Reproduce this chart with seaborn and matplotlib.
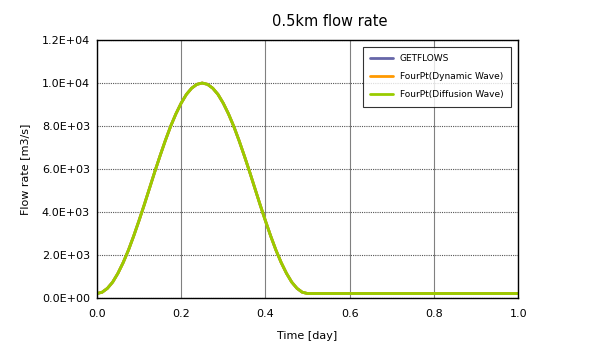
import matplotlib
matplotlib.use("Agg")
import matplotlib.pyplot as plt
import seaborn as sns
import pandas as pd

# values (rising limb, peak, falling limb, base flow)
time_day = [0.0, 0.0125, 0.025, 0.0375, 0.05, 0.0625, 0.075, 0.0875, 0.1, 0.1125,
            0.125, 0.1375, 0.15, 0.1625, 0.175, 0.1875, 0.2, 0.2125, 0.225, 0.2375,
            0.25, 0.2625, 0.275, 0.2875, 0.3, 0.3125, 0.325, 0.3375, 0.35, 0.3625,
            0.375, 0.3875, 0.4, 0.4125, 0.425, 0.4375, 0.45, 0.4625, 0.475, 0.4875,
            0.5, 0.6, 0.7, 0.8, 0.9, 1.0]
getflows = [200, 260, 440, 730, 1140, 1640, 2220, 2880, 3590, 4330,
            5100, 5870, 6610, 7320, 7980, 8560, 9060, 9470, 9760, 9940,
            10000, 9940, 9760, 9470, 9060, 8560, 7980, 7320, 6610, 5870,
            5100, 4330, 3590, 2880, 2220, 1640, 1140, 730, 440, 260,
            200, 200, 200, 200, 200, 200]
dynamic = [200, 260, 440, 730, 1140, 1640, 2220, 2880, 3590, 4330,
           5100, 5870, 6610, 7320, 7980, 8560, 9060, 9470, 9760, 9940,
           10000, 9940, 9760, 9470, 9060, 8560, 7980, 7320, 6610, 5870,
           5100, 4330, 3590, 2880, 2220, 1640, 1140, 730, 440, 260,
           200, 200, 200, 200, 200, 200]
diffusion = [200, 260, 440, 730, 1140, 1640, 2220, 2880, 3590, 4330,
             5100, 5870, 6610, 7320, 7980, 8560, 9060, 9470, 9760, 9940,
             10000, 9940, 9760, 9470, 9060, 8560, 7980, 7320, 6610, 5870,
             5100, 4330, 3590, 2880, 2220, 1640, 1140, 730, 440, 260,
             200, 200, 200, 200, 200, 200]
series_names = ["GETFLOWS", "FourPt(Dynamic Wave)", "FourPt(Diffusion Wave)"]
colors = ["#6666a8", "#ff9900", "#99cc00"]

frames = []
for name, vals in zip(series_names, [getflows, dynamic, diffusion]):
    frames.append(pd.DataFrame({"t": time_day, "q": vals, "series": name}))
df = pd.concat(frames, ignore_index=True)

sns.set_style("white")
plt.rcParams['font.family'] = ['DejaVu Sans']
plt.rcParams['text.color'] = 'black'
plt.rcParams['axes.labelcolor'] = 'black'
plt.rcParams['xtick.color'] = 'black'
plt.rcParams['ytick.color'] = 'black'

fig = plt.figure(figsize=(6.09, 3.61), dpi=100)
ax = fig.add_axes([0.159, 0.175, 0.692, 0.714])
sns.lineplot(data=df, x="t", y="q", hue="series", palette=colors,
             hue_order=series_names, linewidth=2, ax=ax, sort=False)

ax.set_xlim(0, 1.0)
ax.set_ylim(0, 12000)
ax.set_xticks([0, 0.2, 0.4, 0.6, 0.8, 1.0])
ax.set_xticklabels(["0.0", "0.2", "0.4", "0.6", "0.8", "1.0"], fontsize=8)
yt = [0, 2000, 4000, 6000, 8000, 10000, 12000]
ax.set_yticks(yt)
ax.set_yticklabels(["%.1E" % v for v in yt], fontsize=8)
# vertical grid solid grey, horizontal grid dotted
ax.xaxis.grid(True, color="#808080", linestyle="-", linewidth=0.8)
ax.yaxis.grid(True, color="#555555", linestyle=(0, (1, 1)), linewidth=0.8)
for s in ax.spines.values():
    s.set_visible(True)
    s.set_color("black")
    s.set_linewidth(1)
ax.tick_params(axis="x", length=0, pad=8)
ax.tick_params(axis="y", length=0, pad=5)

ax.set_xlabel("Time [day]", fontsize=8, labelpad=9)
ax.set_ylabel("Flow rate [m3/s]", fontsize=8, labelpad=8)
fig.text(0.542, 0.94, "0.5km flow rate", ha="center", va="center", fontsize=10.5)

leg = ax.legend(loc="upper right", bbox_to_anchor=(0.993, 0.99), fontsize=6.5,
                frameon=True, fancybox=False, edgecolor="black", handlelength=2.5,
                labelspacing=1.0, borderpad=0.8)
leg.get_frame().set_linewidth(0.8)

fig.savefig("out.png", dpi=100)
